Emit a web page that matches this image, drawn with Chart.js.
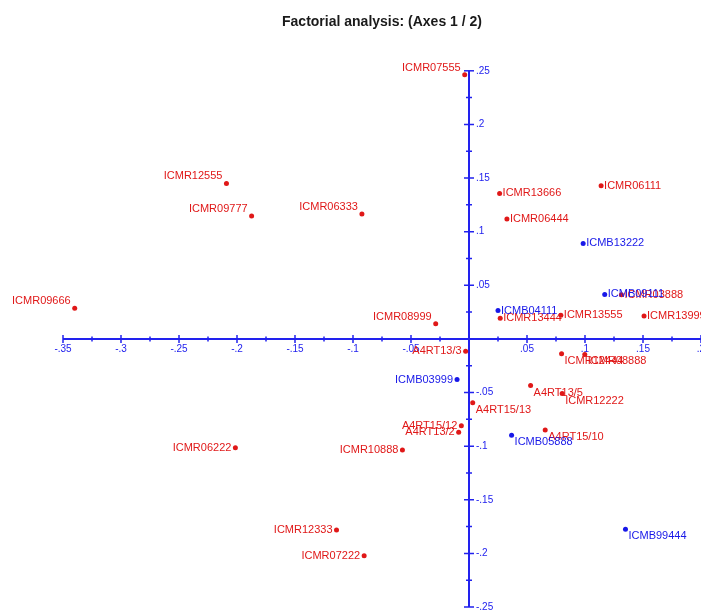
<!DOCTYPE html>
<html>
<head>
<meta charset="utf-8">
<script src="https://cdn.jsdelivr.net/npm/chart.js@4.4.0/dist/chart.umd.min.js"></script>
<style>
    body { margin: 0; background: #fff; }
    canvas { display: block; }
</style>
</head>
<body>
<canvas id="factorChart" width="701" height="613"></canvas>
<script>
// Red observations (ICMR / A4RT)
const redNames = ["ICMR07555", "ICMR12555", "ICMR09777", "ICMR06333", "ICMR09666", "ICMR08999",
    "ICMR13666", "ICMR06444", "ICMR06111", "ICMR03888", "ICMR13444", "ICMR13555", "ICMR13999",
    "A4RT13/3", "ICMR12444", "ICMR08888", "A4RT13/5", "ICMR12222", "A4RT15/13", "A4RT15/12",
    "A4RT13/2", "A4RT15/10", "ICMR10888", "ICMR06222", "ICMR12333", "ICMR07222"];
const redX = [-0.0037, -0.2091, -0.1874, -0.0923, -0.3399, -0.0287,
    0.0264, 0.0327, 0.1139, 0.1314, 0.0269, 0.0792, 0.1509,
    -0.0029, 0.0798, 0.0998, 0.0531, 0.0803, 0.0032, -0.0066,
    -0.0089, 0.0657, -0.0574, -0.2014, -0.1142, -0.0904];
const redY = [0.2463, 0.1450, 0.1145, 0.1164, 0.0285, 0.0142,
    0.1357, 0.1117, 0.1428, 0.0411, 0.0192, 0.0220, 0.0213,
    -0.0114, -0.0138, -0.0145, -0.0435, -0.0509, -0.0596, -0.0811,
    -0.0871, -0.0849, -0.1037, -0.1014, -0.1783, -0.2023];

// Blue observations (ICMB)
const blueNames = ["ICMB13222", "ICMB09111", "ICMB04111", "ICMB03999", "ICMB05888", "ICMB99444"];
const blueX = [0.0984, 0.1170, 0.0250, -0.0103, 0.0367, 0.1349];
const blueY = [0.0890, 0.0415, 0.0264, -0.0379, -0.0899, -0.1774];

// where each label sits relative to its point
const redSide = ["upleft", "upleft", "upleft", "upleft", "upleft", "upleft",
    "right", "right", "right", "right", "right", "right", "right",
    "left", "below", "below", "below", "below", "below", "left",
    "left", "below", "left", "left", "left", "left"];
const blueSide = ["right", "right", "right", "left", "below", "below"];

// axis ticks
const xTicks = [-0.35, -0.3, -0.25, -0.2, -0.15, -0.1, -0.05, 0, 0.05, 0.1, 0.15, 0.2];
const yTicks = [-0.25, -0.2, -0.15, -0.1, -0.05, 0, 0.05, 0.1, 0.15, 0.2, 0.25];

const RED = "#e01818";
const BLUE = "#1818e8";
const AXIS = "#2222ee";
const FONT = "'Liberation Sans', Arial, sans-serif";

function toPoints(xs, ys) {
    return xs.map((x, i) => ({ x: x, y: ys[i] }));
}

function fmtTick(v) {
    let s = v.toFixed(2).replace(/0+$/, "").replace(/\.$/, "");
    return s.replace(/^(-?)0\./, "$1.");
}

// axes crossing at the origin, with major and minor ticks
const crossAxes = {
    id: "crossAxes",
    beforeDatasetsDraw(chart) {
        const ctx = chart.ctx;
        const xs = chart.scales.x;
        const ys = chart.scales.y;
        const x0 = xs.getPixelForValue(0);
        const y0 = ys.getPixelForValue(0);
        ctx.save();
        ctx.strokeStyle = AXIS;
        ctx.fillStyle = AXIS;

        // axis lines
        ctx.lineWidth = 2;
        ctx.beginPath();
        ctx.moveTo(xs.getPixelForValue(xTicks[0]), y0);
        ctx.lineTo(xs.getPixelForValue(xTicks[xTicks.length - 1]), y0);
        ctx.moveTo(x0, ys.getPixelForValue(yTicks[yTicks.length - 1]));
        ctx.lineTo(x0, ys.getPixelForValue(yTicks[0]));
        ctx.stroke();

        ctx.lineWidth = 1.5;
        ctx.font = "10px " + FONT;

        // x ticks
        for (let i = 0; i < xTicks.length; i++) {
            const px = xs.getPixelForValue(xTicks[i]);
            ctx.beginPath();
            ctx.moveTo(px, y0 - 4);
            ctx.lineTo(px, y0 + 4);
            if (i < xTicks.length - 1) {
                const mx = xs.getPixelForValue((xTicks[i] + xTicks[i + 1]) / 2);
                ctx.moveTo(mx, y0 - 2.5);
                ctx.lineTo(mx, y0 + 2.5);
            }
            ctx.stroke();
            if (xTicks[i] !== 0) {
                ctx.textAlign = "center";
                ctx.textBaseline = "middle";
                ctx.fillText(fmtTick(xTicks[i]), px, y0 + 10);
            }
        }

        // y ticks
        for (let i = 0; i < yTicks.length; i++) {
            const py = ys.getPixelForValue(yTicks[i]);
            ctx.beginPath();
            ctx.moveTo(x0 - 5, py);
            ctx.lineTo(x0 + 5, py);
            if (i < yTicks.length - 1) {
                const my = ys.getPixelForValue((yTicks[i] + yTicks[i + 1]) / 2);
                ctx.moveTo(x0 - 3, my);
                ctx.lineTo(x0 + 3, my);
            }
            ctx.stroke();
            if (yTicks[i] !== 0) {
                ctx.textAlign = "left";
                ctx.textBaseline = "middle";
                ctx.fillText(fmtTick(yTicks[i]), x0 + 7, py);
            }
        }
        ctx.restore();
    }
};

// observation names next to the points
const pointLabels = {
    id: "pointLabels",
    afterDatasetsDraw(chart) {
        const ctx = chart.ctx;
        ctx.save();
        ctx.font = "11px " + FONT;
        ctx.textBaseline = "middle";
        chart.data.datasets.forEach((ds, di) => {
            const meta = chart.getDatasetMeta(di);
            meta.data.forEach((pt, i) => {
                const side = ds.sides[i];
                ctx.fillStyle = ds.textColor;
                let tx = pt.x, ty = pt.y;
                if (side === "left" || side === "upleft") {
                    ctx.textAlign = "right";
                    tx = pt.x - 4;
                    if (side === "upleft") ty = pt.y - 7;
                } else {
                    ctx.textAlign = "left";
                    tx = pt.x + 3;
                    if (side === "below") ty = pt.y + 7;
                }
                ctx.fillText(ds.names[i], tx, ty);
            });
        });
        ctx.restore();
    }
};

new Chart(document.getElementById("factorChart"), {
    type: "scatter",
    data: {
        datasets: [
            {
                label: "ICMR / A4RT",
                data: toPoints(redX, redY),
                names: redNames,
                sides: redSide,
                textColor: RED,
                backgroundColor: RED,
                pointRadius: 2.5,
                pointBorderWidth: 0,
                clip: false
            },
            {
                label: "ICMB",
                data: toPoints(blueX, blueY),
                names: blueNames,
                sides: blueSide,
                textColor: BLUE,
                backgroundColor: BLUE,
                pointRadius: 2.5,
                pointBorderWidth: 0,
                clip: false
            }
        ]
    },
    options: {
        responsive: false,
        animation: false,
        devicePixelRatio: 1,
        layout: { autoPadding: false, padding: { left: 63, right: 0, top: 0, bottom: 6 } },
        scales: {
            x: { type: "linear", min: -0.35, max: 0.2, display: false },
            y: { type: "linear", min: -0.25, max: 0.25, display: false }
        },
        plugins: {
            legend: { display: false },
            tooltip: { enabled: false },
            title: {
                display: true,
                text: "Factorial analysis: (Axes 1 / 2)",
                color: "#1a1a1a",
                font: { family: FONT, size: 14, weight: "bold" },
                padding: { top: 14, bottom: 40 }
            }
        }
    },
    plugins: [crossAxes, pointLabels]
});
</script>
</body>
</html>
